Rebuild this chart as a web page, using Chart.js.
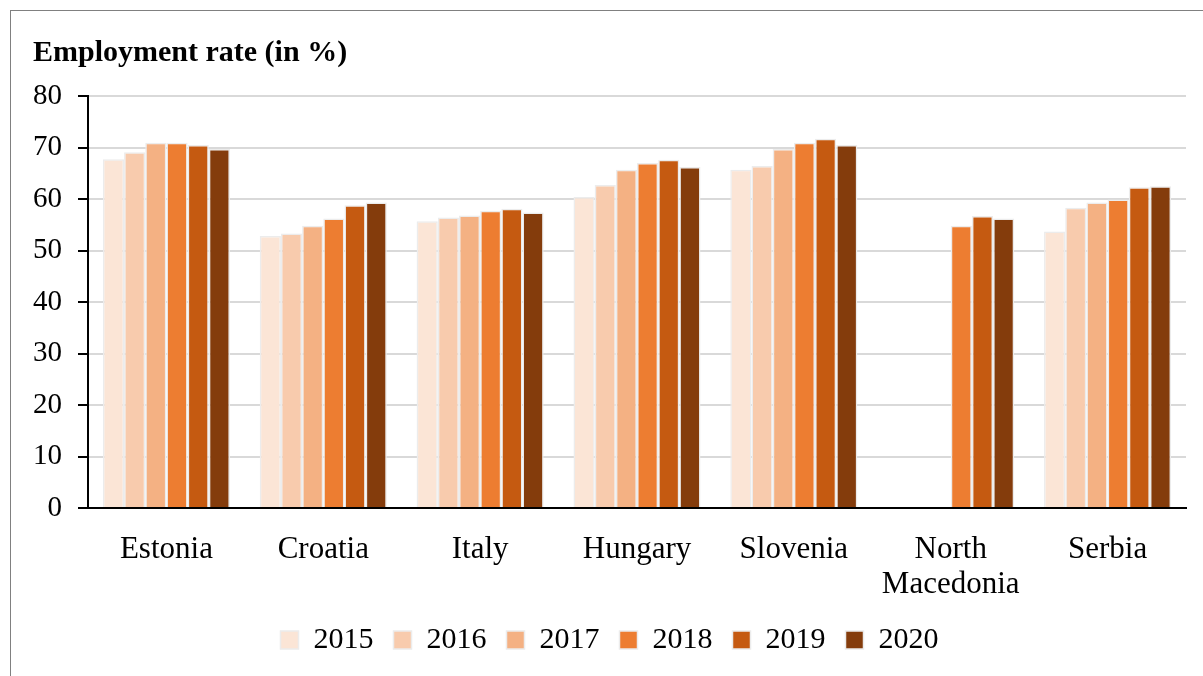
<!DOCTYPE html>
<html>
<head>
<meta charset="utf-8">
<script src="https://cdn.jsdelivr.net/npm/chart.js@4"></script>
<style>
  html, body { margin: 0; padding: 0; background: #fff; overflow: hidden; }
  #frame { position: absolute; left: 10px; top: 10px; width: 1250px; height: 700px; border: 1.5px solid #808080; }
  #wrap { position: absolute; left: 0; top: 0; width: 1203px; height: 676px; }
</style>
</head>
<body>
<div id="frame"></div>
<div id="wrap"><canvas id="employment-chart"></canvas></div>
<script>
const countries = ['Estonia', 'Croatia', 'Italy', 'Hungary', 'Slovenia', ['North', 'Macedonia'], 'Serbia'];
const years = ['2015', '2016', '2017', '2018', '2019', '2020'];
const yTicks = [0, 10, 20, 30, 40, 50, 60, 70, 80];

const rate2015 = [67.7, 52.8, 55.7, 60.4, 65.7, null, 53.7];
const rate2016 = [69.1, 53.3, 56.4, 62.7, 66.4, null, 58.3];
const rate2017 = [70.9, 54.8, 56.8, 65.7, 69.7, null, 59.3];
const rate2018 = [70.9, 56.2, 57.7, 67.0, 70.9, 54.8, 59.9];
const rate2019 = [70.5, 58.8, 58.1, 67.6, 71.7, 56.7, 62.3];
const rate2020 = [69.7, 59.3, 57.4, 66.2, 70.5, 56.2, 62.5];

const colors = ['#FBE5D6', '#F8CBAD', '#F4B183', '#ED7D31', '#C55A11', '#843C0C'];
const series = [rate2015, rate2016, rate2017, rate2018, rate2019, rate2020];

const serif = '"Liberation Serif", "Times New Roman", serif';

let chartCanvas = document.getElementById('employment-chart');

new Chart(chartCanvas, {
    type: 'bar',
    data: {
        labels: countries,
        datasets: years.map((y, i) => ({
            label: y,
            data: series[i],
            backgroundColor: colors[i],
            borderColor: '#ececec',
            borderWidth: 1.5,
            categoryPercentage: 0.81,
            barPercentage: 1.0
        }))
    },
    options: {
        responsive: true,
        maintainAspectRatio: false,
        animation: false,
        layout: {
            padding: { left: 33, right: 17, top: 0, bottom: 11 }
        },
        plugins: {
            title: {
                display: true,
                text: 'Employment rate (in %)',
                align: 'start',
                color: '#000',
                font: { family: serif, size: 30, weight: 'bold', lineHeight: 1.2 },
                padding: { top: 35, bottom: 25 }
            },
            legend: {
                position: 'bottom',
                labels: {
                    color: '#000',
                    font: { family: serif, size: 30, lineHeight: 1.2 },
                    boxWidth: 18,
                    boxHeight: 18,
                    padding: 20
                }
            },
            tooltip: { enabled: false }
        },
        scales: {
            x: {
                afterFit: (scale) => { scale.height = 97; },
                grid: { display: false },
                border: { color: '#000', width: 2 },
                ticks: {
                    color: '#000',
                    font: { family: serif, size: 31, lineHeight: 1.13 },
                    padding: 16,
                    maxRotation: 0,
                    autoSkip: false
                }
            },
            y: {
                min: 0,
                max: 80,
                afterFit: (scale) => { scale.width = 55; },
                afterBuildTicks: (scale) => { scale.ticks = yTicks.map(v => ({ value: v })); },
                grid: {
                    color: '#d9d9d9',
                    lineWidth: 2,
                    tickColor: '#000',
                    tickWidth: 2,
                    tickLength: 10
                },
                border: { color: '#000', width: 2 },
                ticks: {
                    color: '#000',
                    font: { family: serif, size: 29 },
                    padding: 16
                }
            }
        }
    }
});
</script>
</body>
</html>
